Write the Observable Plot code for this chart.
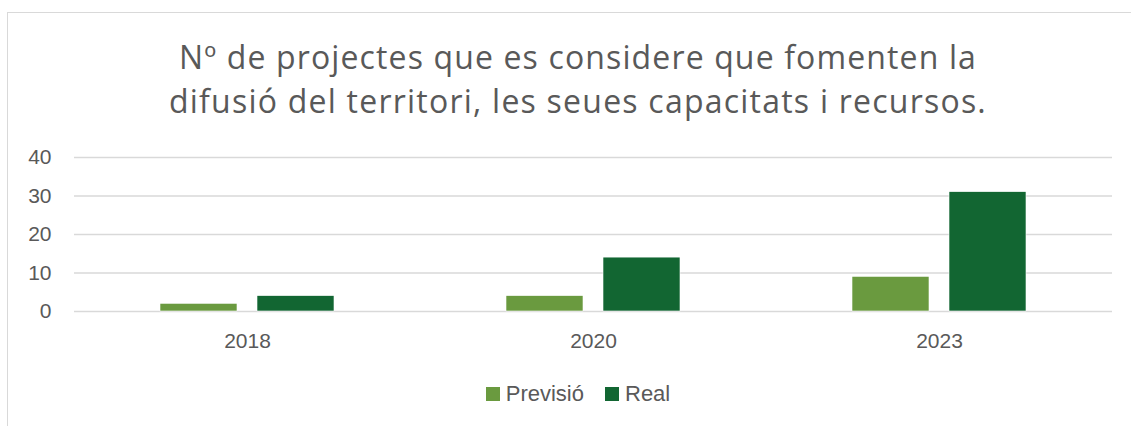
<!DOCTYPE html>
<html><head><meta charset="utf-8">
<script src="https://cdn.jsdelivr.net/npm/d3@7"></script>
<script src="https://cdn.jsdelivr.net/npm/@observablehq/plot@0.6"></script>
<style>
body{margin:0;background:#fff;font-family:"Liberation Sans",Arial,sans-serif;width:1131px;height:426px;overflow:hidden;position:relative;}
#frame{position:absolute;left:7px;top:12px;width:1140px;height:440px;border:1.5px solid #d9d9d9;box-sizing:border-box;}
#title{position:absolute;left:8px;top:35px;width:1140px;text-align:center;color:#595959;font-family:"Open Sans",sans-serif;font-size:32px;line-height:44px;}
#title div{white-space:nowrap;}
#chart{position:absolute;left:0;top:140px;}
#legend{position:absolute;left:8px;top:381px;width:1140px;display:flex;justify-content:center;gap:21px;color:#595959;font-size:22px;}
#legend span.item{display:flex;align-items:center;gap:6px;}
#legend span.sw{display:inline-block;width:14px;height:14px;}
</style></head>
<body>
<div id="frame"></div>
<div id="title"><div><span>Nº de projectes que es considere que fomenten la</span></div><div><span>difusió del territori, les seues capacitats i recursos.</span></div></div>
<div id="chart"></div>
<div id="legend"></div>
<script>
const years = ["2018", "2020", "2023"];
const series = ["Previsió", "Real"];
const previsio = [2, 4, 9];
const real = [4, 14, 31];
const yTicks = [0, 10, 20, 30, 40];
const colors = ["#6a9a3f", "#126632"];
const titleWidths = [798, 818];

const data = years.flatMap((y, i) => [
  {year: y, serie: series[0], value: previsio[i]},
  {year: y, serie: series[1], value: real[i]}
]);

const chart = Plot.plot({
  width: 1131,
  height: 216,
  marginLeft: 73,
  marginRight: 18,
  marginTop: 17,
  marginBottom: 45,
  style: {fontSize: "21px", color: "#595959", fontFamily: "'Liberation Sans', Arial, sans-serif", background: "transparent"},
  fx: {domain: years, paddingInner: 0, paddingOuter: 0, label: null, tickSize: 0, tickPadding: 22},
  x: {domain: series, paddingInner: 0.204, paddingOuter: 0.87, axis: null},
  y: {domain: [0, 40], ticks: yTicks, label: null, tickSize: 0, tickPadding: 23},
  color: {domain: series, range: colors},
  marks: [
    Plot.gridY(yTicks, {stroke: "#d9d9d9", strokeOpacity: 1, strokeWidth: 1.5}),
    Plot.barY(data, {fx: "year", x: "serie", y: "value", fill: "serie", stroke: "#ffffff", strokeWidth: 0.6})
  ]
});
document.getElementById("chart").appendChild(chart);

// fit title lines to the reference widths with letter spacing
document.querySelectorAll("#title span").forEach((sp, i) => {
  const w = sp.getBoundingClientRect().width;
  const n = sp.textContent.length;
  sp.style.letterSpacing = ((titleWidths[i] - w) / n) + "px";
});

const legend = document.getElementById("legend");
series.forEach((s, i) => {
  const item = document.createElement("span");
  item.className = "item";
  const sw = document.createElement("span");
  sw.className = "sw";
  sw.style.background = colors[i];
  const t = document.createElement("span");
  t.textContent = s;
  item.appendChild(sw);
  item.appendChild(t);
  legend.appendChild(item);
});
</script>
</body></html>
